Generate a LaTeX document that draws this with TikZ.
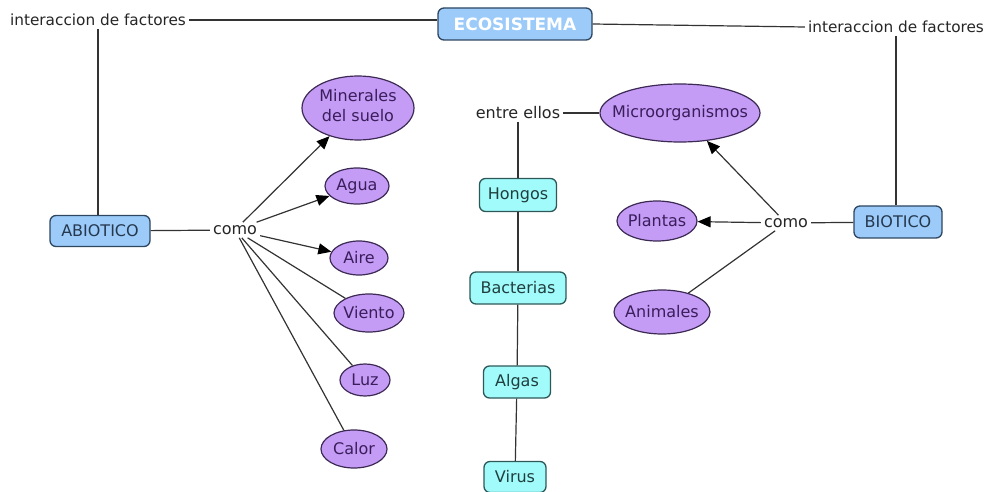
\documentclass[tikz,border=0pt]{standalone}
\usepackage{fontspec}
\setmainfont{DejaVu Sans}
\usetikzlibrary{arrows.meta,shapes.geometric}
\definecolor{bluefill}{HTML}{9CCBFA}
\definecolor{blueline}{HTML}{2E4660}
\definecolor{cyanfill}{HTML}{A2FBFB}
\definecolor{cyanline}{HTML}{2E5858}
\definecolor{purpfill}{HTML}{C59CF5}
\definecolor{purpline}{HTML}{3C2A55}
\definecolor{purptext}{HTML}{3A1E5C}
\definecolor{linecol}{HTML}{333333}
\newcommand{\zw}[1]{\makebox[0pt]{#1}}
\begin{document}
\begin{tikzpicture}[x=1pt,y=-1pt,
  every node/.style={font=\fontsize{16}{19}\selectfont},
  bluebox/.style={draw=blueline,line width=1.3pt,fill=bluefill,rounded corners=6pt,inner sep=0pt,text=blueline!80!black},
  cyanbox/.style={draw=cyanline,line width=1.3pt,fill=cyanfill,rounded corners=6pt,inner sep=0pt,text=cyanline!70!black},
  oval/.style={draw=purpline,line width=1.2pt,fill=purpfill,ellipse,inner sep=0pt,text=purptext,align=center},
  lbl/.style={inner sep=3pt,fill=white,text=black!85},
  conn/.style={draw=linecol,line width=1.2pt},
  arr/.style={conn,-{Triangle[length=13pt,width=11pt,color=black]}}]
\useasboundingbox (0,0) rectangle (989,492);

% nodes
\node[bluebox,minimum width=154pt,minimum height=32pt,text=white,font=\fontsize{17}{19}\selectfont\bfseries] (eco) at (515,24) {ECOSISTEMA};
\node[lbl,font=\fontsize{15.3}{18}\selectfont] (intL) at (98,20) {interaccion de factores};
\node[lbl,font=\fontsize{15.3}{18}\selectfont] (intR) at (896,27) {interaccion de factores};
\node[bluebox,minimum width=100pt,minimum height=31pt] (abio) at (100,231) {ABIOTICO};
\node[bluebox,minimum width=88pt,minimum height=32pt] (bio) at (898,222) {BIOTICO};
\node[lbl] (comoL) at (235,230) {como};
\node[lbl] (comoR) at (786,223) {como};
\node[lbl] (entre) at (518,113) {entre ellos};

\node[oval,minimum width=112pt,minimum height=64pt] (min) at (358,108) {\zw{\begin{tabular}{@{}c@{}}Minerales\\[1pt]del suelo\end{tabular}}};
\node[oval,minimum width=64pt,minimum height=36pt] (agua) at (357,186) {\zw{Agua}};
\node[oval,minimum width=58pt,minimum height=34pt] (aire) at (359,258) {\zw{Aire}};
\node[oval,minimum width=70pt,minimum height=38pt] (viento) at (369,313) {\zw{Viento}};
\node[oval,minimum width=50pt,minimum height=32pt] (luz) at (365,380) {\zw{Luz}};
\node[oval,minimum width=66pt,minimum height=38pt] (calor) at (354,449) {\zw{Calor}};

\node[oval,minimum width=160pt,minimum height=58pt] (micro) at (680,113) {\zw{Microorganismos}};
\node[oval,minimum width=80pt,minimum height=40pt] (plantas) at (657,221) {\zw{Plantas}};
\node[oval,minimum width=96pt,minimum height=44pt] (animales) at (662,312) {\zw{Animales}};

\node[cyanbox,minimum width=77pt,minimum height=33pt] (hongos) at (518,195) {Hongos};
\node[cyanbox,minimum width=96pt,minimum height=32pt] (bact) at (518,288) {Bacterias};
\node[cyanbox,minimum width=67pt,minimum height=32pt] (algas) at (517,382) {Algas};
\node[cyanbox,minimum width=62pt,minimum height=31pt] (virus) at (515,477) {Virus};

% connectors
\draw[conn] (intL.east |- 0,20) -- (eco.west |- 0,20);
\draw[conn] (eco.east) -- (intR.west);
\draw[conn] (intL.south) -- (abio.north -| intL.south);
\draw[conn] (intR.south) -- (bio.north -| intR.south);
\draw[conn] (abio) -- (comoL);
\draw[conn] (bio) -- (comoR);

\draw[arr] (comoL) -- (min);
\draw[arr] (comoL) -- (agua);
\draw[arr] (comoL) -- (aire);
\draw[conn] (comoL) -- (viento);
\draw[conn] (comoL) -- (luz);
\draw[conn] (comoL) -- (calor);

\draw[arr] (comoR) -- (micro);
\draw[arr] (comoR) -- (plantas);
\draw[conn] (comoR) -- (animales);

\draw[conn] (entre) -- (micro);
\draw[conn] (entre) -- (hongos);
\draw[conn] (hongos) -- (bact);
\draw[conn] (bact) -- (algas);
\draw[conn] (algas) -- (virus);
\end{tikzpicture}
\end{document}
